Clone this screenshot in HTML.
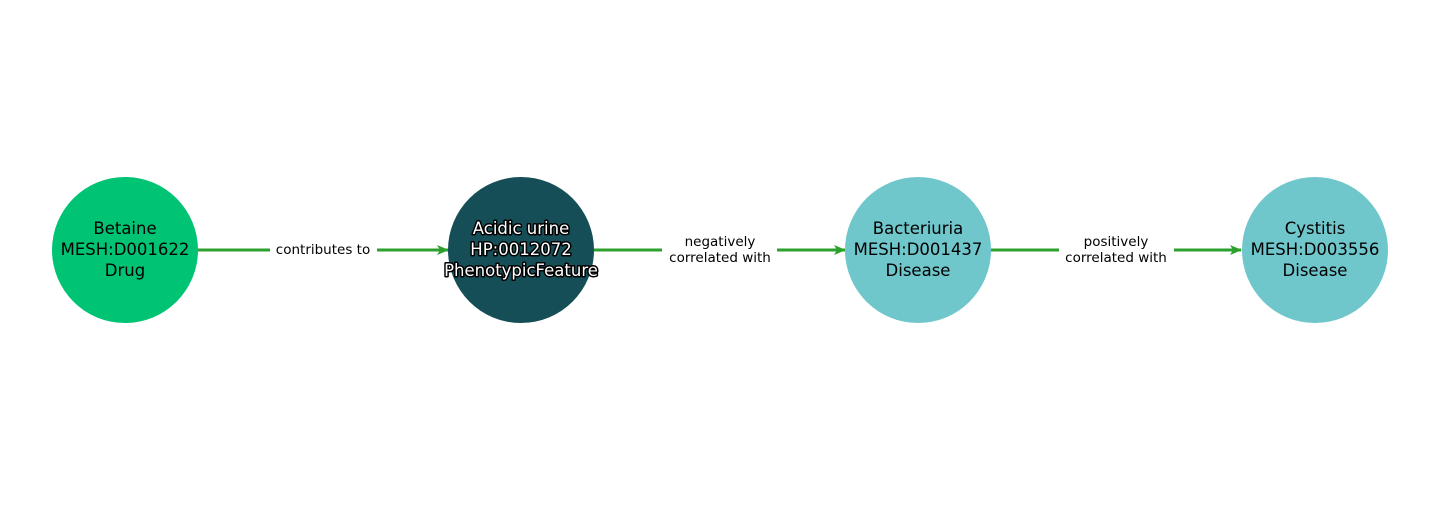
<!DOCTYPE html>
<html><head><meta charset="utf-8"><style>html,body{margin:0;padding:0;background:#fff}</style></head>
<body>
<svg width="1440" height="500" xmlns="http://www.w3.org/2000/svg" font-family="DejaVu Sans, sans-serif">
<defs><marker id="a" markerWidth="12" markerHeight="10" refX="11" refY="5" orient="auto" markerUnits="userSpaceOnUse"><path d="M0,0 L12,5 L0,10 L3,5 z" fill="#2ca02c"/></marker></defs>
<g stroke="#2ca02c" stroke-width="3" fill="none">
<line x1="198" y1="250" x2="448" y2="250" marker-end="url(#a)"/>
<line x1="594" y1="250" x2="845" y2="250" marker-end="url(#a)"/>
<line x1="991" y1="250" x2="1241" y2="250" marker-end="url(#a)"/>
</g>
<g fill="#fff">
<rect x="270" y="238" width="107" height="24"/>
<rect x="662" y="230" width="115" height="40"/>
<rect x="1059" y="230" width="115" height="40"/>
</g>
<g font-size="13.5" text-anchor="middle" fill="#000">
<text x="323" y="254">contributes to</text>
<text x="720" y="246">negatively</text><text x="720" y="262">correlated with</text>
<text x="1116" y="246">positively</text><text x="1116" y="262">correlated with</text>
</g>
<circle cx="125" cy="250" r="73" fill="#00c373"/>
<circle cx="521" cy="250" r="73" fill="#164e57"/>
<circle cx="918" cy="250" r="73" fill="#6fc6cb"/>
<circle cx="1315" cy="250" r="73" fill="#6fc6cb"/>
<g font-size="16.5" text-anchor="middle" fill="#000">
<text x="125" y="234">Betaine</text><text x="125" y="255">MESH:D001622</text><text x="125" y="276">Drug</text>
<text x="918" y="234">Bacteriuria</text><text x="918" y="255">MESH:D001437</text><text x="918" y="276">Disease</text>
<text x="1315" y="234">Cystitis</text><text x="1315" y="255">MESH:D003556</text><text x="1315" y="276">Disease</text>
</g>
<g font-size="16.5" text-anchor="middle" fill="#fff" stroke="#000" stroke-width="3" paint-order="stroke" stroke-linejoin="round">
<text x="521" y="234">Acidic urine</text><text x="521" y="255">HP:0012072</text><text x="521" y="276">PhenotypicFeature</text>
</g>
</svg>
</body></html>
